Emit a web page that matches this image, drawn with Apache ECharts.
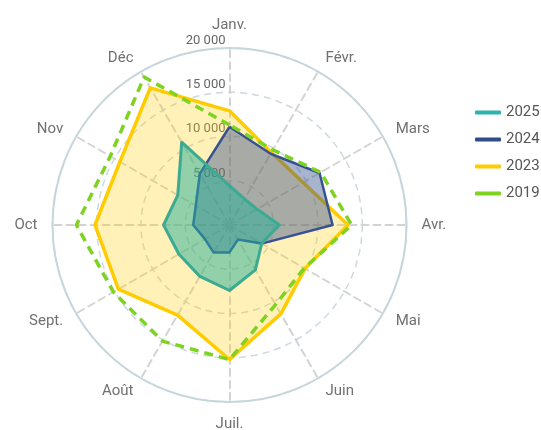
<!DOCTYPE html>
<html lang="fr">
<head>
    <meta charset="UTF-8">
    <title>Radar mensuel</title>
    <script type="text/javascript" src="https://cdn.jsdelivr.net/npm/echarts@6/dist/echarts.min.js"></script>
    <style>
        html, body { margin: 0; padding: 0; background: #fff; }
        #chart { width: 541px; height: 430px; }
    </style>
</head>
<body>
<div id="chart"></div>
<script type="text/javascript">
    // mois dans l'ordre du calendrier
    var months = ['Janv.', 'Févr.', 'Mars', 'Avr.', 'Mai', 'Juin', 'Juil.', 'Août', 'Sept.', 'Oct', 'Nov', 'Déc'];
    var years = ['2025', '2024', '2023', '2019'];
    var v2025 = [4450, 3400, 3600, 5650, 4200, 5850, 7400, 6700, 6600, 7450, 6750, 10800];
    var v2024 = [11100, 9300, 11750, 11650, 4200, 1900, 3100, 3600, 3200, 4100, 4400, 6700];
    var v2023 = [12900, 9450, 9600, 13400, 9850, 11600, 15200, 11750, 14500, 15200, 14300, 17900];
    var v2019 = [11300, 9800, 11900, 13800, 9750, 10400, 15200, 15150, 15150, 17300, 15550, 19300];
    var maxValue = 20000;

    // echarts tourne dans le sens anti-horaire : on inverse apres janvier
    var order = [0, 11, 10, 9, 8, 7, 6, 5, 4, 3, 2, 1];
    function reorder(arr) {
        return order.map(function (i) { return arr[i]; });
    }

    function fmt(v) {
        if (v === 0) return '';
        return String(v).replace(/\B(?=(\d{3})+(?!\d))/g, ' ');
    }

    var indicators = reorder(months).map(function (m, i) {
        var ind = {name: m, min: 0, max: maxValue};
        if (i === 0) ind.axisLabel = {show: true};
        return ind;
    });

    var myChart = echarts.init(document.getElementById('chart'));
    var option = {
        animation: false,
        legend: {
            orient: 'vertical',
            left: 470,
            top: 100,
            itemWidth: 26,
            itemHeight: 4,
            itemGap: 12,
            data: years,
            textStyle: {color: '#555', fontSize: 15, fontFamily: 'Roboto'}
        },
        radar: [{
            center: [229.5, 225],
            radius: 177,
            startAngle: 90,
            shape: 'circle',
            splitNumber: 4,
            indicator: indicators,
            axisName: {color: '#707070', fontSize: 15, fontFamily: 'Roboto'},
            nameGap: 15,
            axisLabel: {
                show: false, color: '#666', fontSize: 13, fontFamily: 'Roboto',
                formatter: fmt, margin: 4, verticalAlign: 'bottom', padding: [0, 0, 1, 0]
            },
            axisLine: {lineStyle: {color: '#d3d3d3', width: 2, type: [7, 5]}},
            splitLine: {lineStyle: {color: '#cdd9df', width: 1.5, type: [7, 5]}},
            splitArea: {show: false}
        }, {
            // cercle exterieur plein
            center: [229.5, 225],
            radius: 177,
            shape: 'circle',
            splitNumber: 1,
            indicator: indicators.map(function (d) { return {name: '', max: maxValue}; }),
            axisName: {show: false},
            axisLine: {show: false},
            axisLabel: {show: false},
            splitLine: {lineStyle: {color: '#c6d6db', width: 2}},
            splitArea: {show: false},
            silent: true
        }],
        series: [
            {
                name: '2023', type: 'radar', radarIndex: 0, symbol: 'none', color: '#ffcc00',
                lineStyle: {width: 3.5, color: '#ffcc00'},
                areaStyle: {color: '#ffcc00', opacity: 0.28},
                data: [{value: reorder(v2023), name: '2023'}]
            },
            {
                name: '2024', type: 'radar', radarIndex: 0, symbol: 'none', color: '#2f4b8a',
                lineStyle: {width: 2.5, color: '#3a5594'},
                areaStyle: {color: '#2f4b8a', opacity: 0.42},
                data: [{value: reorder(v2024), name: '2024'}]
            },
            {
                name: '2025', type: 'radar', radarIndex: 0, symbol: 'none', color: '#2eb2ad',
                lineStyle: {width: 3, color: '#45a98f'},
                areaStyle: {color: '#23b09a', opacity: 0.5},
                data: [{value: reorder(v2025), name: '2025'}]
            },
            {
                name: '2019', type: 'radar', radarIndex: 0, symbol: 'none', color: '#7ed321',
                lineStyle: {width: 3.5, color: '#7ed321', type: [9, 6]},
                data: [{value: reorder(v2019), name: '2019'}]
            }
        ]
    };
    myChart.setOption(option);
</script>
</body>
</html>
